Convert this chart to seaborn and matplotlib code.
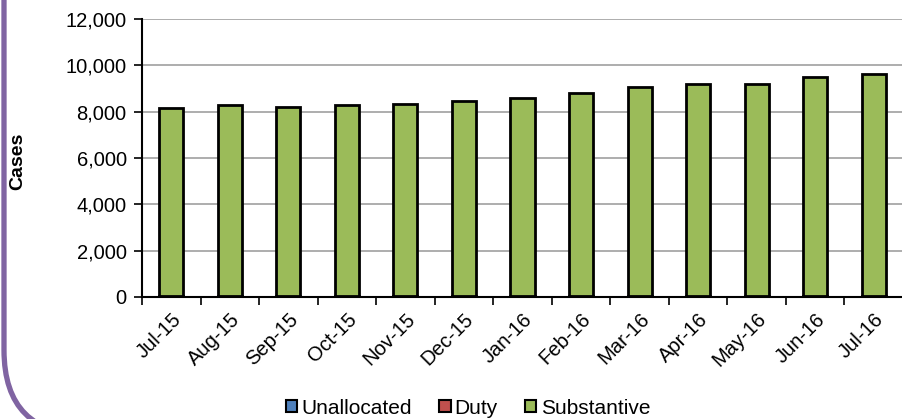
import pandas as pd
import seaborn as sns
import matplotlib.pyplot as plt
import matplotlib.patches as mpatches
from matplotlib.patches import FancyBboxPatch
import numpy as np

months = ['Jul-15', 'Aug-15', 'Sep-15', 'Oct-15', 'Nov-15', 'Dec-15', 'Jan-16',
          'Feb-16', 'Mar-16', 'Apr-16', 'May-16', 'Jun-16', 'Jul-16']
unallocated = [5, 5, 5, 5, 5, 5, 5, 5, 5, 5, 5, 10, 15]
duty = [20, 20, 20, 20, 20, 20, 20, 20, 25, 25, 25, 30, 35]
substantive = [8135, 8275, 8165, 8275, 8315, 8435, 8565, 8775, 9050, 9160, 9160, 9440, 9560]

df = pd.DataFrame({'Month': months, 'Unallocated': unallocated,
                   'Duty': duty, 'Substantive': substantive})
df['lvl1'] = df['Unallocated']
df['lvl2'] = df['lvl1'] + df['Duty']
df['lvl3'] = df['lvl2'] + df['Substantive']

plt.rcParams['font.family'] = ['Liberation Sans', 'DejaVu Sans']

fig = plt.figure(figsize=(9.03, 4.19), dpi=100)
ax = fig.add_axes([142 / 903, 1 - 297 / 419, 761 / 903, 278 / 419])

# purple rounded frame, only its left side and bottom-left corner show
frame = FancyBboxPatch((4 / 903, -16 / 419), 2.0, 2.0,
                       boxstyle='round,pad=0,rounding_size=0.094',
                       transform=fig.transFigure, fill=False,
                       edgecolor='#8064A2', linewidth=3.8, mutation_aspect=903 / 419)
fig.patches.append(frame)

green = '#9BBB59'
red = '#C0504D'
blue = '#4F81BD'
kw = dict(edgecolor='black', linewidth=2, width=0.41, saturation=1, ax=ax)
sns.barplot(data=df, x='Month', y='lvl3', color=green, **kw)
sns.barplot(data=df, x='Month', y='lvl2', color=red, **kw)
sns.barplot(data=df, x='Month', y='lvl1', color=blue, **kw)

ax.set_xlim(-0.5, len(months) - 0.5)
ax.set_ylim(0, 12000)
ax.set_yticks(np.arange(0, 12001, 2000))
ax.set_yticklabels([f'{v:,}' for v in range(0, 12001, 2000)], fontsize=14.5)
ax.yaxis.grid(True, color='#A0A0A0', linewidth=1.2)
ax.set_axisbelow(True)

ax.set_xticks(np.arange(len(months)))
ax.set_xticklabels(months, rotation=45, ha='right', rotation_mode='anchor', fontsize=14.5)
ax.tick_params(axis='x', which='major', length=0, pad=9)
ax.set_xticks(np.arange(len(months) + 1) - 0.5, minor=True)
ax.tick_params(axis='x', which='minor', length=6, width=1.2, direction='out')
ax.tick_params(axis='y', length=6, width=1.2, direction='out', pad=5)

for s in ['top', 'right']:
    ax.spines[s].set_visible(False)
for s in ['left', 'bottom']:
    ax.spines[s].set_linewidth(1.5)
    ax.spines[s].set_color('black')

ax.set_xlabel('')
ax.set_ylabel('')
fig.text(17.5 / 903, 1 - 161 / 419, 'Cases', rotation=90, fontsize=14,
         fontweight='bold', ha='center', va='center')

handles = [mpatches.Patch(facecolor=c, edgecolor='black', linewidth=1.5, label=l)
           for c, l in [(blue, 'Unallocated'), (red, 'Duty'), (green, 'Substantive')]]
fig.legend(handles=handles, loc='center', bbox_to_anchor=(468 / 903, 1 - 408 / 419),
           ncol=3, frameon=False, fontsize=15, handlelength=0.55, handleheight=0.55,
           handletextpad=0.2, columnspacing=1.3)

fig.savefig('out.png', dpi=100)
